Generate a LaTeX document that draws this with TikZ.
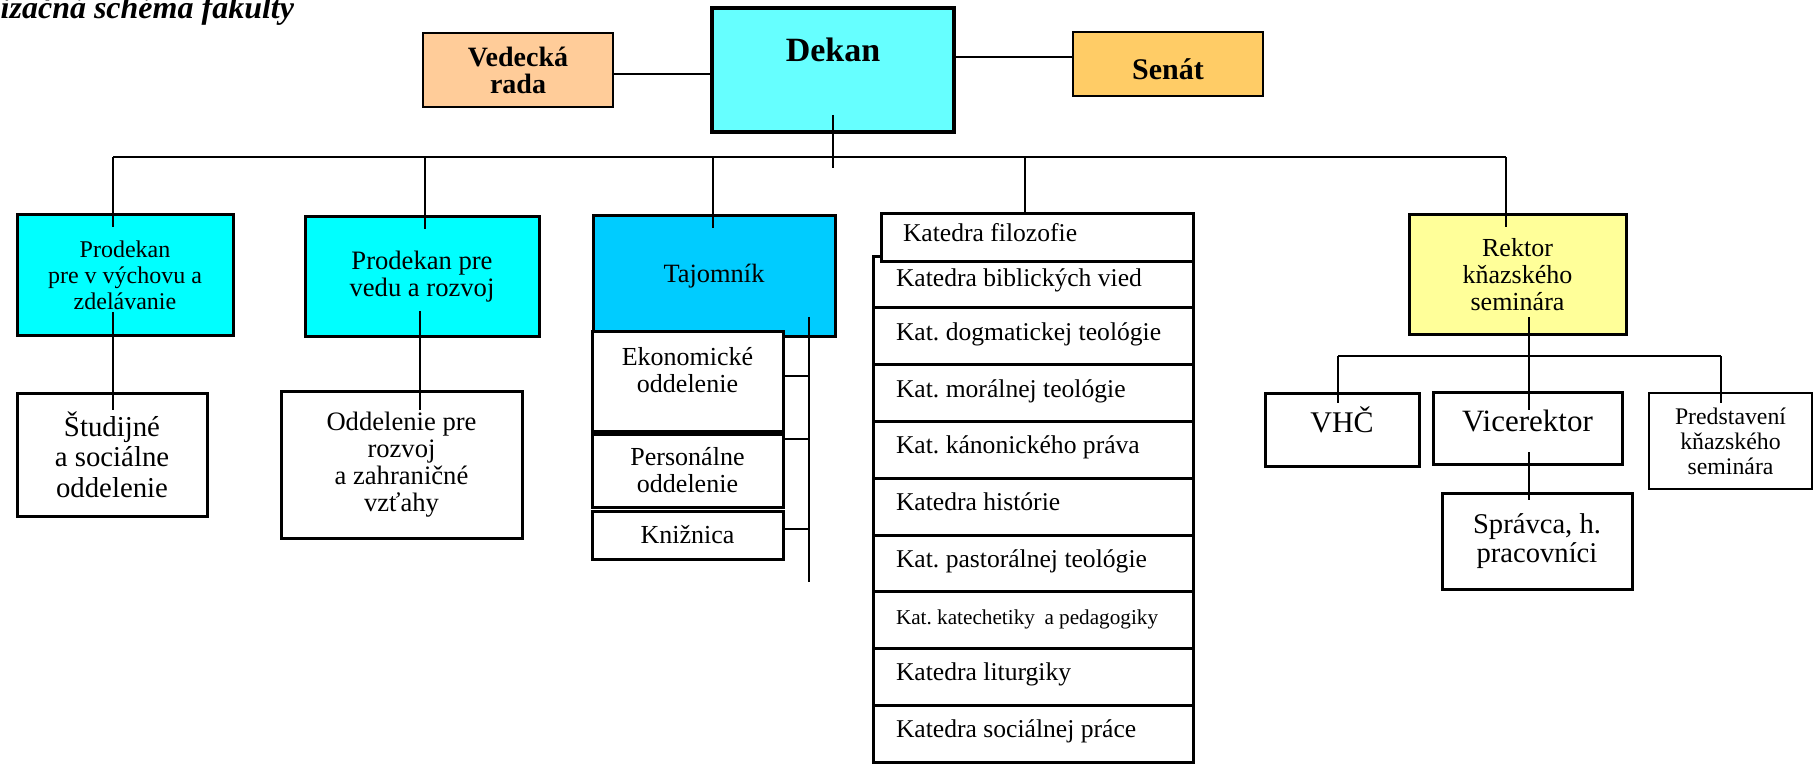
\documentclass[tikz,border=0pt]{standalone}
\usepackage{fontspec}
\setmainfont{Liberation Serif}
\usetikzlibrary{positioning}

\definecolor{vrcolor}{HTML}{FFCC99}
\definecolor{dekancolor}{HTML}{66FFFF}
\definecolor{senatcolor}{HTML}{FFCC66}
\definecolor{prodcolor}{HTML}{00FFFF}
\definecolor{tajcolor}{HTML}{00CCFF}
\definecolor{rektorcolor}{HTML}{FFFF99}

\begin{document}
\begin{tikzpicture} [x = 0.5pt, y = -0.5pt, line width = 0.7pt, node distance = 0pt,
  box/.style = {draw, line width = 1.5pt, fill = white, align = center, inner sep = 0pt, outer sep = 0pt},
  thinbox/.style = {box, line width = 1pt},
  katbox/.style = {box, align = flush left, text width = 137pt, inner xsep = 11.5pt, minimum height = 28.375pt,
    text height = 8.5pt, text depth = 4.5pt, font = \fontsize{12.8}{14}\selectfont\frenchspacing}]

\useasboundingbox (0,0) rectangle (1813,764);

\node [anchor = base west, inner sep = 0pt, font = \fontsize{16}{18}\selectfont\bfseries\itshape] (title) at (0,19) {izačná schéma fakulty};

\node [thinbox, fill = vrcolor, minimum width = 95pt, minimum height = 37pt, font = \fontsize{14}{13.5}\selectfont\bfseries] (vr) at (518,70) {Vedecká\\rada};
\node [box, line width = 1.8pt, fill = dekancolor, minimum width = 121pt, minimum height = 62pt, text height = 12pt, text depth = 20pt, font = \fontsize{17}{17}\selectfont\bfseries] (dekan) at (833,70) {Dekan};
\node [thinbox, fill = senatcolor, minimum width = 95pt, minimum height = 32pt, text height = 18pt, text depth = 2pt, font = \fontsize{15}{15}\selectfont\bfseries] (senat) at (1168,64) {Senát};

\path ([yshift = -2pt] vr.east) edge ([yshift = -2pt] vr.east -| dekan.west);
\path ([yshift = 3.5pt] senat.west) edge ([yshift = 3.5pt] senat.west -| dekan.east);

\node [box, fill = prodcolor, minimum width = 108pt, minimum height = 60.5pt, font = \fontsize{12}{13}\selectfont] (pd1) at (125,275.5) {Prodekan\\pre v výchovu a\\zdelávanie};
\node [box, fill = prodcolor, minimum width = 117pt, minimum height = 60pt, font = \fontsize{13.3}{13.5}\selectfont] (pd2) at (422,277) {Prodekan pre\\vedu a rozvoj};
\node [box, fill = tajcolor, minimum width = 121pt, minimum height = 60.5pt, font = \fontsize{13.2}{14}\selectfont] (taj) at (714,276.5) {Tajomník};
\node [box, fill = rektorcolor, minimum width = 108.5pt, minimum height = 60pt, font = \fontsize{13}{13.5}\selectfont] (rektor) at (1517.5,275) {Rektor\\kňazského\\seminára};

\node [box, minimum width = 95pt, minimum height = 61.5pt, font = \fontsize{14.4}{15.3}\selectfont] (stud) at (112,454.5) {Študijné\\a sociálne\\oddelenie};
\node [box, minimum width = 120.5pt, minimum height = 73.5pt, font = \fontsize{13.3}{13.4}\selectfont] (odd) at (401.5,464.5) {Oddelenie pre\\rozvoj\\a zahraničné\\vzťahy};

\node [box, minimum width = 95.5pt, minimum height = 49.5pt, text depth = 12pt, font = \fontsize{13}{13.5}\selectfont] (eko) at (687.5,381.5) {Ekonomické\\oddelenie};
\node [box, minimum width = 95.5pt, minimum height = 36.5pt, font = \fontsize{13}{13.5}\selectfont] (pers) at (687.5,470.5) {Personálne\\oddelenie};
\node [box, minimum width = 95.5pt, minimum height = 24pt, font = \fontsize{13}{13.5}\selectfont] (kniz) at (687.5,535) {Knižnica};

\node [katbox, anchor = north west, minimum height = 25.5pt] (k1) at (873,257) {Katedra biblických vied};
\node [katbox] (k2) [below = of k1] {Kat. dogmatickej teológie};
\node [katbox] (k3) [below = of k2] {Kat. morálnej teológie};
\node [katbox] (k4) [below = of k3] {Kat. kánonického práva};
\node [katbox] (k5) [below = of k4] {Katedra histórie};
\node [katbox] (k6) [below = of k5] {Kat. pastorálnej teológie};
\node [katbox, font = \fontsize{10.6}{12}\selectfont\frenchspacing] (k7) [below = of k6] {Kat. katechetiky\hspace{0.2em} a pedagogiky};
\node [katbox] (k8) [below = of k7] {Katedra liturgiky};
\node [katbox] (k9) [below = of k8] {Katedra sociálnej práce};
\node [katbox, anchor = north west, text width = 134pt, inner xsep = 11pt, minimum height = 24pt] (kf) at (881,214) {Katedra filozofie};

\node [box, minimum width = 77pt, minimum height = 36.5pt, text height = 13pt, text depth = 10.5pt, font = \fontsize{15}{15}\selectfont] (vhc) at (1342,429.5) {VHČ};
\node [box, minimum width = 94.5pt, minimum height = 36pt, text height = 10.5pt, text depth = 7.5pt, font = \fontsize{15.5}{15.5}\selectfont] (vice) at (1527.5,428) {Vicerektor};
\node [thinbox, line width = 1.2pt, minimum width = 81.5pt, minimum height = 48pt, font = \fontsize{11.9}{12.5}\selectfont] (pred) at (1730.5,441) {Predstavení\\kňazského\\seminára};
\node [box, minimum width = 95pt, minimum height = 48pt, font = \fontsize{14.3}{14.5}\selectfont] (spr) at (1537,541) {Správca, h.\\pracovníci};

\coordinate (b1) at (113,157);
\coordinate (b2) at (425,157);
\coordinate (b3) at (713,157);
\coordinate (b4) at (1025,157);
\coordinate (b5) at (1506,157);
\coordinate (d1) at (833,115);
\coordinate (d2) at (833,168);

\path (b1) edge (b5);
\path (d1) edge (d2);
\path (b1) edge ([yshift = -6pt] b1 |- pd1.north);
\path (b2) edge ([yshift = -6pt] b2 |- pd2.north);
\path (b3) edge ([yshift = -6pt] b3 |- taj.north);
\path (b4) edge (b4 |- kf.north);
\path (b5) edge ([yshift = -6pt] b5 |- rektor.north);

\coordinate (p1) at (113,312);
\coordinate (p2) at (113,410);
\coordinate (p3) at (420,311);
\coordinate (p4) at (420,410);

\path (p1) edge (p2);
\path (p3) edge (p4);

\coordinate (t1) at (809,317);
\coordinate (t2) at (809,582);
\coordinate (t3) at (809,376);
\coordinate (t4) at (809,439);
\coordinate (t5) at (809,529);

\path (t1) edge (t2);
\path (t3) edge (t3 -| eko.east);
\path (t4) edge (t4 -| pers.east);
\path (t5) edge (t5 -| kniz.east);

\coordinate (r1) at (1529,317);
\coordinate (r2) at (1529,410);
\coordinate (r3) at (1338,356);
\coordinate (r4) at (1721,356);
\coordinate (v1) at (1529,452);
\coordinate (v2) at (1529,500);

\path (r1) edge (r2);
\path (r3) edge (r4);
\path (r3) edge ([yshift = -5pt] r3 |- vhc.north);
\path (r4) edge ([yshift = -5pt] r4 |- pred.north);
\path (v1) edge (v2);

\end{tikzpicture}
\end{document}
